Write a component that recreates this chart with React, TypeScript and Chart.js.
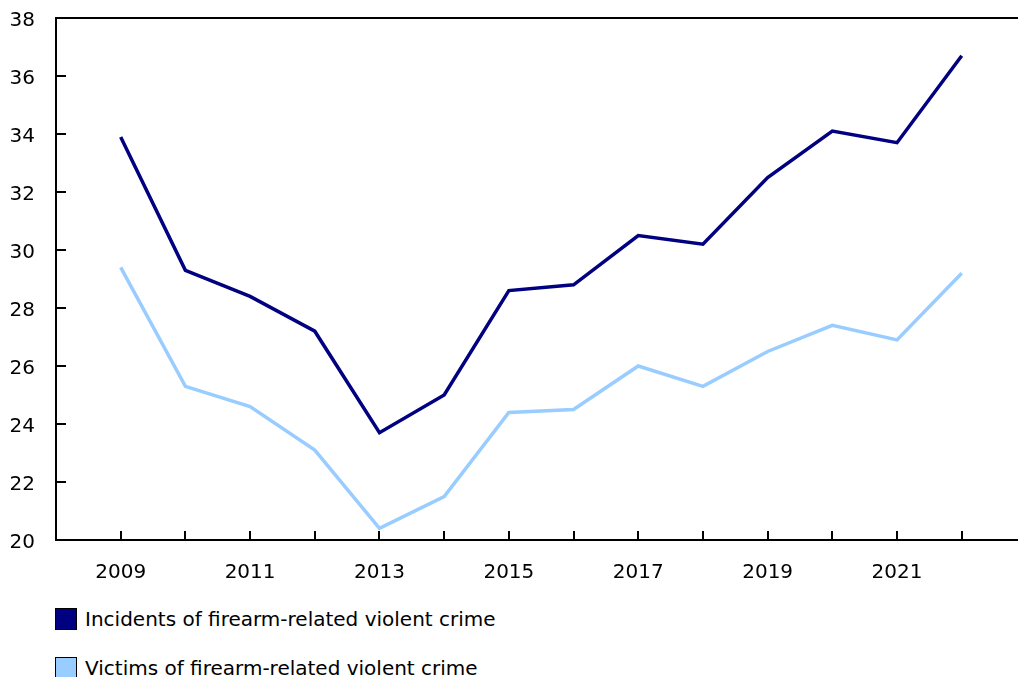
import React, { useEffect, useRef } from "react";
import { Chart, registerables } from "chart.js";

Chart.register(...registerables);

const years = [2009, 2010, 2011, 2012, 2013, 2014, 2015, 2016, 2017, 2018, 2019, 2020, 2021, 2022];
const incidents = [33.9, 29.3, 28.4, 27.2, 23.7, 25.0, 28.6, 28.8, 30.5, 30.2, 32.5, 34.1, 33.7, 36.7];
const victims = [29.4, 25.3, 24.6, 23.1, 20.4, 21.5, 24.4, 24.5, 26.0, 25.3, 26.5, 27.4, 26.9, 29.2];
const seriesLabels = ["Incidents of firearm-related violent crime", "Victims of firearm-related violent crime"];
const seriesColors = ["#000080", "#99ccff"];
const yTicks = [20, 22, 24, 26, 28, 30, 32, 34, 36, 38];

const FONT = "'DejaVu Sans', Verdana, sans-serif";

const tickPlugin = {
  id: "innerTicks",
  afterDraw(chart: any) {
    const { ctx, chartArea, scales } = chart;
    ctx.save();
    ctx.strokeStyle = "#000";
    ctx.lineWidth = 2;
    ctx.beginPath();
    yTicks.forEach((v) => {
      const y = Math.round(scales.y.getPixelForValue(v));
      ctx.moveTo(chartArea.left, y);
      ctx.lineTo(chartArea.left + 10, y);
    });
    years.forEach((v) => {
      const x = Math.round(scales.x.getPixelForValue(v));
      ctx.moveTo(x, chartArea.bottom);
      ctx.lineTo(x, chartArea.bottom - 9);
    });
    ctx.stroke();
    ctx.restore();
  },
};

export default function App() {
  const ref = useRef<HTMLCanvasElement>(null);
  useEffect(() => {
    if (!ref.current) return;
    const chart = new Chart(ref.current, {
      type: "line",
      data: {
        datasets: [
          {
            label: seriesLabels[0],
            data: years.map((x, i) => ({ x, y: incidents[i] })),
            borderColor: seriesColors[0],
            backgroundColor: seriesColors[0],
            borderWidth: 3.5,
            pointRadius: 0,
            tension: 0,
          },
          {
            label: seriesLabels[1],
            data: years.map((x, i) => ({ x, y: victims[i] })),
            borderColor: seriesColors[1],
            backgroundColor: seriesColors[1],
            borderWidth: 3.5,
            pointRadius: 0,
            tension: 0,
          },
        ],
      },
      options: {
        animation: false,
        responsive: false,
        maintainAspectRatio: false,
        layout: { padding: 0 },
        plugins: { legend: { display: false }, tooltip: { enabled: false } },
        scales: {
          x: {
            type: "linear",
            position: "bottom",
            min: 2008,
            max: 2022.87,
            afterBuildTicks: (s: any) => {
              s.ticks = years.map((v) => ({ value: v }));
            },
            afterFit: (s: any) => {
              s.height = 60;
              s.paddingLeft = 0;
              s.paddingRight = 0;
            },
            grid: { display: false, drawTicks: false },
            border: { display: true, color: "#000", width: 2 },
            ticks: {
              autoSkip: false,
              maxRotation: 0,
              padding: 21,
              color: "#000",
              font: { family: FONT, size: 20 },
              callback: (v: any) => (Number(v) % 2 === 1 ? String(v) : ""),
            },
          },
          x2: {
            type: "linear",
            position: "top",
            min: 2008,
            max: 2022.87,
            afterFit: (s: any) => {
              s.height = 18;
              s.paddingLeft = 0;
              s.paddingRight = 0;
            },
            grid: { display: false, drawTicks: false },
            border: { display: true, color: "#000", width: 2 },
            ticks: { display: false },
          },
          y: {
            min: 20,
            max: 38,
            afterBuildTicks: (s: any) => {
              s.ticks = yTicks.map((v) => ({ value: v }));
            },
            afterFit: (s: any) => {
              s.width = 56;
              s.paddingTop = 0;
              s.paddingBottom = 0;
            },
            grid: { display: false, drawTicks: false },
            border: { display: true, color: "#000", width: 2 },
            ticks: {
              padding: 21,
              labelOffset: 3,
              color: "#000",
              font: { family: FONT, size: 20 },
            },
          },
        },
      },
      plugins: [tickPlugin],
    });
    return () => chart.destroy();
  }, []);

  return (
    <div style={{ position: "absolute", left: 0, top: 0, width: 1018, height: 677, background: "#fff", overflow: "hidden" }}>
      <canvas ref={ref} width={1018} height={600} style={{ display: "block" }} />
      {seriesLabels.map((label, i) => (
        <div
          key={label}
          style={{
            position: "absolute",
            left: 55,
            top: 608 + i * 49,
            height: 22,
            display: "flex",
            alignItems: "center",
            fontFamily: FONT,
            fontSize: 20,
            color: "#000",
            whiteSpace: "nowrap",
          }}
        >
          <span
            style={{
              display: "inline-block",
              width: 20,
              height: 20,
              background: seriesColors[i],
              border: "1px solid #000",
              marginRight: 8,
            }}
          />
          {label}
        </div>
      ))}
    </div>
  );
}
